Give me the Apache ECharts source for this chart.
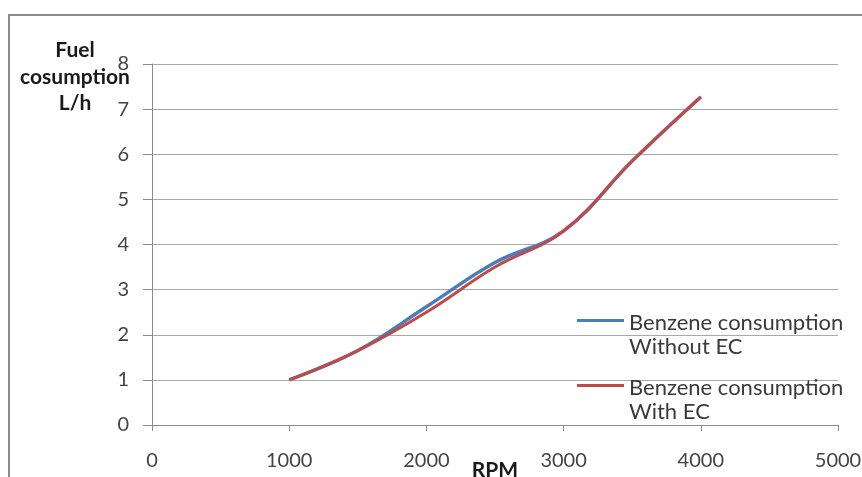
<!DOCTYPE html>
<html>
<head>
<meta charset="utf-8">
<script src="https://cdn.jsdelivr.net/npm/echarts@6/dist/echarts.min.js"></script>
<style>
html,body{margin:0;padding:0;background:#fff;}
#chart{width:862px;height:477px;}
</style>
</head>
<body>
<div id="chart"></div>
<script>
var rpm = [1000, 1500, 2000, 2500, 3000, 3500, 4000];
var withoutEC = [1.0, 1.65, 2.62, 3.6, 4.3, 5.85, 7.27];
var withEC = [1.0, 1.65, 2.5, 3.5, 4.3, 5.85, 7.27];
var seriesNames = ['Benzene consumption\nWithout EC', 'Benzene consumption\nWith EC'];
var yTitle = 'Fuel\ncosumption\nL/h';
var xTitle = 'RPM';

function pairs(xs, ys) { return xs.map(function (x, i) { return [x, ys[i]]; }); }

var FONT = 'Lato';
var chart = echarts.init(document.getElementById('chart'));
chart.setOption({
  animation: false,
  backgroundColor: '#fff',
  graphic: [{
    type: 'rect', silent: true,
    shape: { x: 9, y: 15, width: 900, height: 520 },
    style: { fill: 'none', stroke: '#8a8a8a', lineWidth: 2 }
  }],
  title: {
    text: yTitle, left: 75, top: 37, padding: 0, textAlign: 'center',
    textStyle: { fontFamily: FONT, fontSize: 21, fontWeight: 'bold', color: '#1a1a1a', lineHeight: 26.5 }
  },
  grid: { left: 152, top: 64, width: 686, height: 361, containLabel: false, outerBoundsMode: 'none' },
  legend: {
    orient: 'vertical', left: 577, top: 310.5, padding: 0,
    itemWidth: 47, itemHeight: 32, itemGap: 16,
    icon: 'path://M0,0L47,0L47,3L0,3ZM47,32',
    data: seriesNames,
    textStyle: { fontFamily: FONT, fontSize: 22, color: '#3a3a3a', lineHeight: 24.5 }
  },
  xAxis: {
    type: 'value', min: 0, max: 5000, interval: 1000,
    name: xTitle, nameLocation: 'middle', nameGap: 45, nameMoveOverlap: false,
    nameTextStyle: { fontFamily: FONT, fontSize: 21, fontWeight: 'bold', color: '#1a1a1a',
      verticalAlign: 'middle' },
    axisLine: { lineStyle: { color: '#8a8a8a', width: 1 } },
    axisTick: { show: true, length: 6, lineStyle: { color: '#8a8a8a' } },
    axisLabel: { fontFamily: FONT, fontSize: 20, color: '#444', margin: 26,
      formatter: function (v) { return String(v); } },
    splitLine: { show: false }
  },
  yAxis: {
    type: 'value', min: 0, max: 8, interval: 1,
    axisLine: { show: true, lineStyle: { color: '#8a8a8a', width: 1 } },
    axisTick: { show: true, length: 9, lineStyle: { color: '#8a8a8a' } },
    axisLabel: { fontFamily: FONT, fontSize: 20, color: '#444', margin: 23 },
    splitLine: { show: true, lineStyle: { color: '#a9a9a9', width: 1 } }
  },
  series: [{
    name: seriesNames[0], type: 'line', smooth: 0.4, showSymbol: false,
    data: pairs(rpm, withoutEC),
    lineStyle: { color: '#4a7ebb', width: 3.5 }, itemStyle: { color: '#4a7ebb' }
  }, {
    name: seriesNames[1], type: 'line', smooth: 0.4, showSymbol: false,
    data: pairs(rpm, withEC),
    lineStyle: { color: '#be4b48', width: 3 }, itemStyle: { color: '#be4b48' }
  }]
});
</script>
</body>
</html>
